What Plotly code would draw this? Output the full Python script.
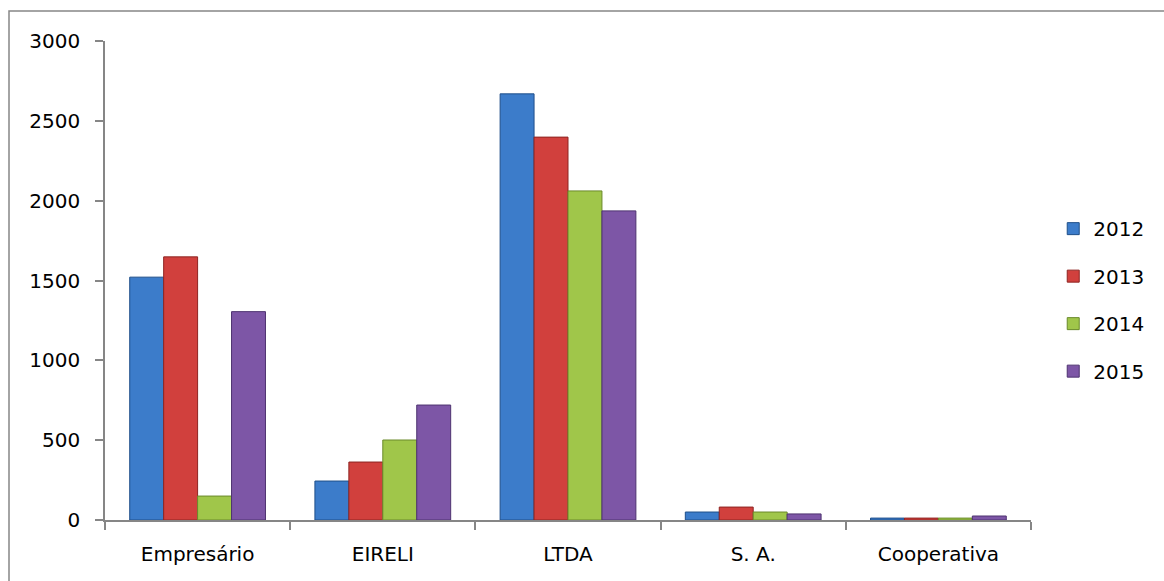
import plotly.graph_objects as go

categories = ["Empresário", "EIRELI", "LTDA", "S. A.", "Cooperativa"]
years = ["2012", "2013", "2014", "2015"]
values_2012 = [1521, 244, 2669, 50, 12]
values_2013 = [1648, 363, 2398, 81, 12]
values_2014 = [150, 501, 2061, 50, 12]
values_2015 = [1305, 720, 1936, 38, 25]
series = [values_2012, values_2013, values_2014, values_2015]

fills = ["#3c7cca", "#d1403d", "#a0c64a", "#7d56a6"]
edges = ["#1f4f8a", "#8e2422", "#6a8a2a", "#4e3370"]

W, H = 1164, 581
L, R, T, B = 105, 133, 41, 61

fig = go.Figure()
for name, vals, fc, ec in zip(years, series, fills, edges):
    fig.add_trace(go.Bar(
        x=categories, y=vals, name=name, legendgroup=name,
        marker=dict(color=fc, line=dict(color=ec, width=1)),
    ))

axis_grey = "#868686"
font_family = "DejaVu Sans, sans-serif"

fig.update_layout(
    width=W, height=H,
    margin=dict(l=L, r=R, t=T, b=B),
    paper_bgcolor="white", plot_bgcolor="white",
    barmode="group", bargap=0.267, bargroupgap=0,
    font=dict(family=font_family, size=20, color="black"),
    legend=dict(
        x=1.024, xanchor="left", xref="paper",
        y=0.459, yanchor="middle",
        tracegroupgap=18.5,
        font=dict(size=20),
        itemwidth=30,
    ),
    showlegend=True,
)
fig.update_xaxes(
    showline=True, linecolor=axis_grey, linewidth=1.5,
    ticks="outside", tickson="boundaries", ticklen=8, tickcolor=axis_grey,
    tickwidth=1.5, showgrid=False, ticklabelstandoff=15,
)
fig.update_yaxes(
    range=[0, 3000], dtick=500,
    showline=True, linecolor=axis_grey, linewidth=1.5,
    ticks="outside", ticklen=8, tickcolor=axis_grey, tickwidth=1.5,
    showgrid=False, zeroline=False, ticklabelstandoff=11,
)

# outer chart-area frame
pw, ph = W - L - R, H - T - B
fig.add_shape(
    type="rect", xref="paper", yref="paper",
    x0=(9 - L) / pw, x1=(W + 20 - L) / pw,
    y0=-(H + 20 - T - ph) / ph, y1=1 + (T - 11) / ph,
    line=dict(color=axis_grey, width=1.5), fillcolor="rgba(0,0,0,0)",
    layer="below",
)

fig.write_html("out.html")
